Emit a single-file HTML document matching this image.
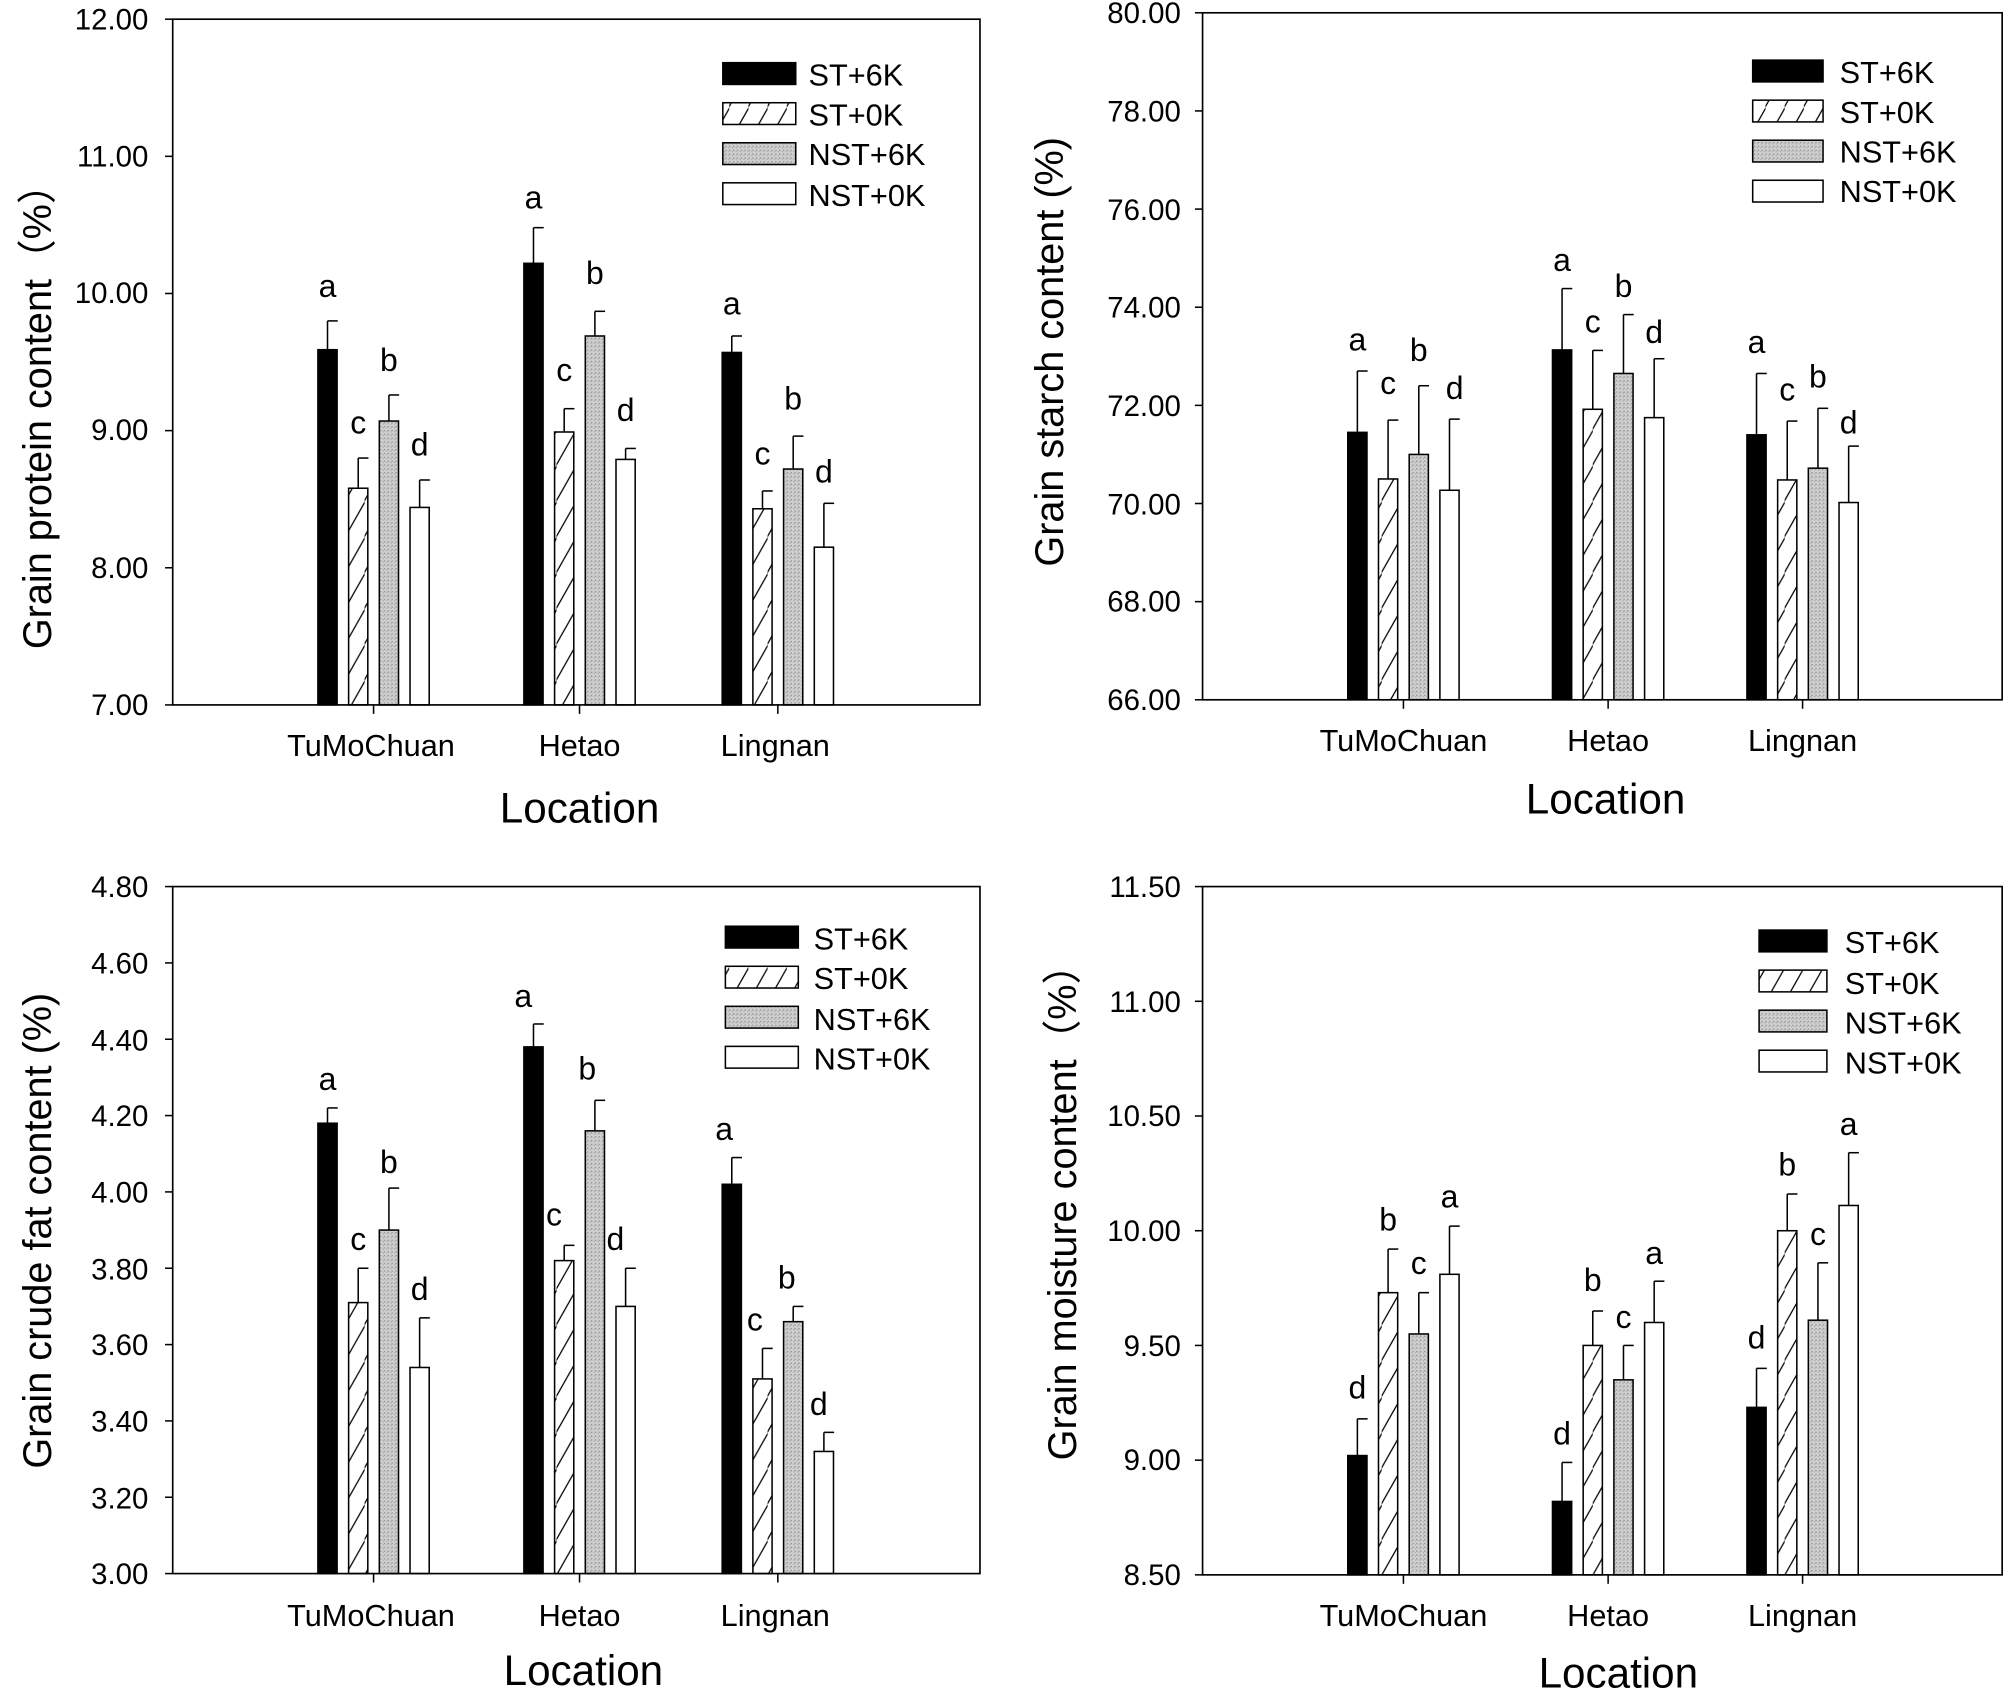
<!DOCTYPE html>
<html><head><meta charset="utf-8"><style>html,body{margin:0;padding:0;background:#fff}svg{display:block}</style></head>
<body>
<svg id="s" width="2006" height="1690" viewBox="0 0 1568 1321" preserveAspectRatio="none" xmlns="http://www.w3.org/2000/svg" font-family="Liberation Sans, Arial, sans-serif">
<defs>
<pattern id="h" patternUnits="userSpaceOnUse" width="15" height="28"><line x1="-1" y1="29" x2="16" y2="-1" stroke="#000" stroke-width="1"/></pattern>
<pattern id="g" patternUnits="userSpaceOnUse" width="3" height="3"><rect width="3" height="3" fill="#d0d0d0"/><rect x="0" y="0" width="1" height="1" fill="#8a8a8a"/><rect x="2" y="1" width="1" height="1" fill="#a8a8a8"/></pattern>
</defs>
<rect width="1568" height="1321" fill="#fff"/>
<g id="bars"></g>
<g font-size="23" text-anchor="end" fill="#000">
<text x="116" y="23">12.00</text><text x="116" y="130">11.00</text><text x="116" y="237">10.00</text><text x="116" y="344">9.00</text><text x="116" y="452">8.00</text><text x="116" y="559">7.00</text>
<text x="923" y="18">80.00</text><text x="923" y="95">78.00</text><text x="923" y="172">76.00</text><text x="923" y="248">74.00</text><text x="923" y="325">72.00</text><text x="923" y="402">70.00</text><text x="923" y="478">68.00</text><text x="923" y="555">66.00</text>
<text x="116" y="701">4.80</text><text x="116" y="761">4.60</text><text x="116" y="821">4.40</text><text x="116" y="880">4.20</text><text x="116" y="940">4.00</text><text x="116" y="1000">3.80</text><text x="116" y="1059">3.60</text><text x="116" y="1119">3.40</text><text x="116" y="1179">3.20</text><text x="116" y="1238">3.00</text>
<text x="923" y="701">11.50</text><text x="923" y="791">11.00</text><text x="923" y="880">10.50</text><text x="923" y="970">10.00</text><text x="923" y="1060">9.50</text><text x="923" y="1149">9.00</text><text x="923" y="1239">8.50</text>
</g>
<g font-size="24" text-anchor="middle">
<text x="290" y="591">TuMoChuan</text><text x="453" y="591">Hetao</text><text x="606" y="591">Lingnan</text>
<text x="1097" y="587">TuMoChuan</text><text x="1257" y="587">Hetao</text><text x="1409" y="587">Lingnan</text>
<text x="290" y="1271">TuMoChuan</text><text x="453" y="1271">Hetao</text><text x="606" y="1271">Lingnan</text>
<text x="1097" y="1271">TuMoChuan</text><text x="1257" y="1271">Hetao</text><text x="1409" y="1271">Lingnan</text>
</g>
<g font-size="33" text-anchor="middle">
<text x="453" y="643">Location</text><text x="1255" y="636">Location</text>
<text x="456" y="1317">Location</text><text x="1265" y="1319">Location</text>
</g>
<g font-size="31" text-anchor="middle">
<text transform="translate(40,318) rotate(-90)">Grain protein content（%）</text>
<text transform="translate(831,275) rotate(-90)">Grain starch content (%)</text>
<text transform="translate(40,962) rotate(-90)">Grain crude fat content (%)</text>
<text transform="translate(841,940) rotate(-90)">Grain moisture content（%）</text>
</g>
<g font-size="24">
<text x="632" y="67">ST+6K</text><text x="632" y="98">ST+0K</text><text x="632" y="129">NST+6K</text><text x="632" y="161">NST+0K</text>
<text x="1438" y="65">ST+6K</text><text x="1438" y="96">ST+0K</text><text x="1438" y="127">NST+6K</text><text x="1438" y="158">NST+0K</text>
<text x="636" y="742">ST+6K</text><text x="636" y="773">ST+0K</text><text x="636" y="805">NST+6K</text><text x="636" y="836">NST+0K</text>
<text x="1442" y="745">ST+6K</text><text x="1442" y="777">ST+0K</text><text x="1442" y="808">NST+6K</text><text x="1442" y="839">NST+0K</text>
</g>
<g font-size="25" text-anchor="middle">
<text x="256" y="232">a</text><text x="280" y="339">c</text><text x="304" y="290">b</text><text x="328" y="356">d</text>
<text x="417" y="163">a</text><text x="441" y="298">c</text><text x="465" y="222">b</text><text x="489" y="329">d</text>
<text x="572" y="246">a</text><text x="596" y="363">c</text><text x="620" y="320">b</text><text x="644" y="377">d</text>
<text x="1061" y="274">a</text><text x="1085" y="308">c</text><text x="1109" y="282">b</text><text x="1137" y="312">d</text>
<text x="1221" y="212">a</text><text x="1245" y="260">c</text><text x="1269" y="232">b</text><text x="1293" y="268">d</text>
<text x="1373" y="276">a</text><text x="1397" y="313">c</text><text x="1421" y="303">b</text><text x="1445" y="339">d</text>
<text x="256" y="852">a</text><text x="280" y="977">c</text><text x="304" y="917">b</text><text x="328" y="1016">d</text>
<text x="409" y="787">a</text><text x="433" y="958">c</text><text x="459" y="844">b</text><text x="481" y="977">d</text>
<text x="566" y="891">a</text><text x="590" y="1040">c</text><text x="615" y="1007">b</text><text x="640" y="1106">d</text>
<text x="1061" y="1093">d</text><text x="1085" y="962">b</text><text x="1109" y="996">c</text><text x="1133" y="944">a</text>
<text x="1221" y="1129">d</text><text x="1245" y="1009">b</text><text x="1269" y="1038">c</text><text x="1293" y="988">a</text>
<text x="1373" y="1054">d</text><text x="1397" y="919">b</text><text x="1421" y="973">c</text><text x="1445" y="887">a</text>
</g>
</svg>
<script>
var NS="http://www.w3.org/2000/svg",G=document.getElementById("bars");
function el(t,a){var e=document.createElementNS(NS,t);for(var k in a)e.setAttribute(k,a[k]);G.appendChild(e);return e;}
var fills=["#000","url(#h)","url(#g)","#fff"];
var P=[
{x0:135,x1:766,y0:15,y1:551,v0:12,v1:7,ticks:[292,453,608],ticksY:[12,11,10,9,8,7],leg:[565,622,49],
 d:[[9.59,.21,8.58,.22,9.07,.19,8.44,.2],[10.22,.26,8.99,.17,9.69,.18,8.79,.08],[9.57,.12,8.43,.13,8.72,.24,8.15,.32]]},
{x0:940,x1:1565,y0:10,y1:547,v0:80,v1:66,ticks:[1097,1257,1409],ticksY:[80,78,76,74,72,70,68,66],leg:[1370,1425,47],
 d:[[71.45,1.25,70.5,1.2,71.0,1.4,70.27,1.45],[73.13,1.25,71.92,1.2,72.65,1.2,71.75,1.2],[71.4,1.25,70.48,1.2,70.72,1.22,70.02,1.15]]},
{x0:135,x1:766,y0:693,y1:1230,v0:4.8,v1:3,ticks:[292,453,608],ticksY:[4.8,4.6,4.4,4.2,4,3.8,3.6,3.4,3.2,3],leg:[567,624,724],
 d:[[4.18,.04,3.71,.09,3.90,.11,3.54,.13],[4.38,.06,3.82,.04,4.16,.08,3.70,.10],[4.02,.07,3.51,.08,3.66,.04,3.32,.05]]},
{x0:940,x1:1565,y0:693,y1:1231,v0:11.5,v1:8.5,ticks:[1097,1257,1409],ticksY:[11.5,11,10.5,10,9.5,9,8.5],leg:[1375,1428,727],
 d:[[9.02,.16,9.73,.19,9.55,.18,9.81,.21],[8.82,.17,9.50,.15,9.35,.15,9.60,.18],[9.23,.17,10.00,.16,9.61,.25,10.11,.23]]}
];
var off=[-36,-12,12,36],W=15;
P.forEach(function(p){
 function Y(v){return p.y1-(v-p.v1)/(p.v0-p.v1)*(p.y1-p.y0);}
 p.d.forEach(function(g,gi){
  for(var i=0;i<4;i++){var v=g[2*i],e=g[2*i+1],cx=p.ticks[gi]+off[i],y=Y(v),yt=Y(v+e);
   el("line",{x1:cx,y1:y,x2:cx,y2:yt,stroke:"#000","stroke-width":1.2});
   el("line",{x1:cx,y1:yt,x2:cx+8,y2:yt,stroke:"#000","stroke-width":1.2});
   el("rect",{x:cx-W/2,y:y,width:W,height:p.y1-y,fill:fills[i],stroke:"#000","stroke-width":1.2});
  }
 });
 el("rect",{x:p.x0,y:p.y0,width:p.x1-p.x0,height:p.y1-p.y0,fill:"none",stroke:"#000","stroke-width":1.3});
 p.ticksY.forEach(function(v){var y=Y(v);el("line",{x1:p.x0-6,y1:y,x2:p.x0,y2:y,stroke:"#000","stroke-width":1.2});});
 p.ticks.forEach(function(x){el("line",{x1:x,y1:p.y1,x2:x,y2:p.y1+7,stroke:"#000","stroke-width":1.2});});
 for(var i=0;i<4;i++){var yy=p.leg[2]+i*31.3;
  el("rect",{x:p.leg[0],y:yy,width:p.leg[1]-p.leg[0],height:17,fill:fills[i],stroke:"#000","stroke-width":1.2});}
});
</script>
</body></html>
